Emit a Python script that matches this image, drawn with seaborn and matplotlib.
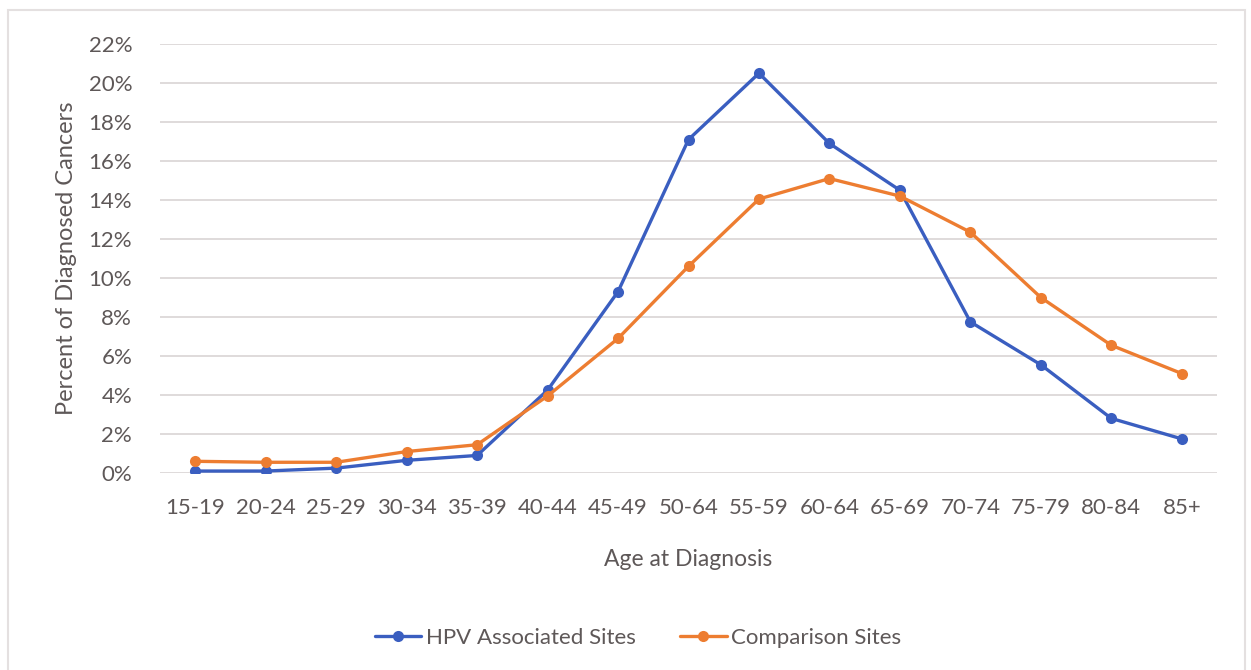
import matplotlib
matplotlib.use("Agg")
import matplotlib.pyplot as plt
from matplotlib.patches import Rectangle
from matplotlib.ticker import FuncFormatter, MultipleLocator
import seaborn as sns
import pandas as pd

age_groups = ["15-19", "20-24", "25-29", "30-34", "35-39", "40-44", "45-49",
              "50-64", "55-59", "60-64", "65-69", "70-74", "75-79", "80-84", "85+"]
hpv_sites = [0.1, 0.1, 0.25, 0.65, 0.9, 4.25, 9.3, 17.1, 20.5, 16.9, 14.5,
             7.75, 5.55, 2.8, 1.75]
comparison_sites = [0.6, 0.55, 0.55, 1.1, 1.45, 3.95, 6.9, 10.6, 14.05, 15.1,
                    14.2, 12.35, 9.0, 6.55, 5.1]
series_names = ["HPV Associated Sites", "Comparison Sites"]
series_colors = ["#3A5EC0", "#ED7D31"]

df = pd.DataFrame({
    "age": age_groups * 2,
    "pct": hpv_sites + comparison_sites,
    "series": [series_names[0]] * len(age_groups) + [series_names[1]] * len(age_groups),
})
df["age"] = pd.Categorical(df["age"], categories=age_groups, ordered=True)

sns.set_theme(style="white")
plt.rcParams["font.family"] = ["Lato", "DejaVu Sans"]
text_color = "#5E5858"

fig = plt.figure(figsize=(12.51, 6.70), dpi=100)
fig.patch.set_facecolor("white")
# light chart-area frame (bottom edge runs off the canvas)
fig.patches.append(Rectangle((8 / 1251, -10 / 670), 1237 / 1251, 670 / 670,
                             transform=fig.transFigure, fill=False,
                             edgecolor="#E4E0E0", linewidth=1.5))

ax = fig.add_axes([160 / 1251, 197 / 670, 1057 / 1251, 429 / 670])
sns.lineplot(data=df, x="age", y="pct", hue="series", hue_order=series_names,
             palette=series_colors, marker="o", markersize=8, markeredgewidth=0,
             linewidth=2.4, sort=False, ax=ax, legend=True)

ax.set_xlim(-0.5, len(age_groups) - 0.5)
ax.set_ylim(0, 22)
ax.set_xticks(range(len(age_groups)))
ax.set_xticklabels(age_groups)
ax.yaxis.set_major_locator(MultipleLocator(2))
ax.yaxis.set_major_formatter(FuncFormatter(lambda v, _: f"{v:.0f}%"))
ax.grid(axis="y", color="#D9D4D4", linewidth=1.2)
ax.set_axisbelow(True)
for s in ax.spines.values():
    s.set_visible(False)
ax.tick_params(axis="both", length=0, labelsize=16, colors=text_color)
ax.tick_params(axis="y", pad=20)
ax.tick_params(axis="x", pad=18)

ax.set_xlabel("Age at Diagnosis", fontsize=16.5, color=text_color, labelpad=22)
ax.set_ylabel("Percent of Diagnosed Cancers", fontsize=17, color=text_color,
              labelpad=8)

leg = ax.legend(loc="center", bbox_to_anchor=(638 / 1251, 32 / 670),
                bbox_transform=fig.transFigure, ncol=2, frameon=False,
                fontsize=16, handlelength=2.1, columnspacing=2.0,
                handletextpad=0.2)
for t in leg.get_texts():
    t.set_color(text_color)

fig.savefig("out.png", dpi=100)
